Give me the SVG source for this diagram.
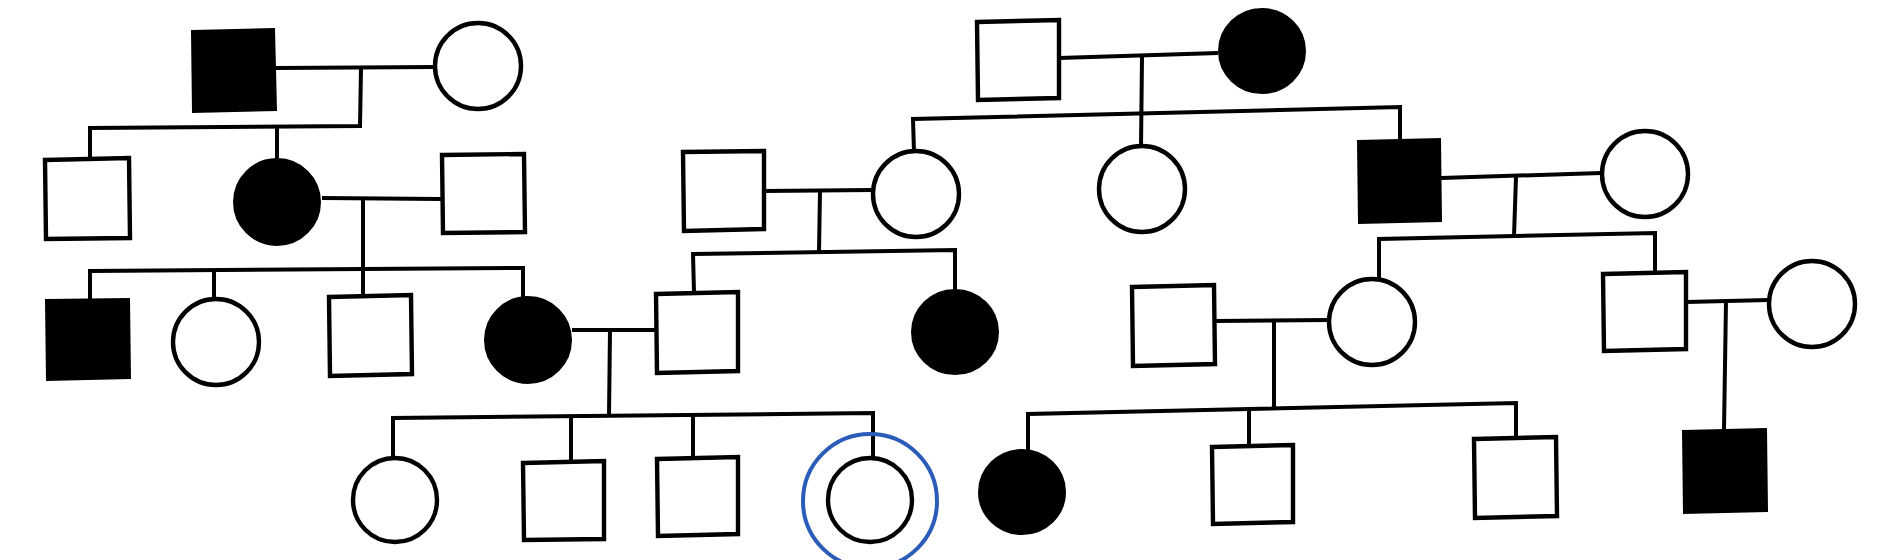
<svg xmlns="http://www.w3.org/2000/svg" width="1888" height="560" viewBox="0 0 1888 560">
<style>
.m{fill:#fff;stroke:#000;stroke-width:4.4}
.a{fill:#000;stroke:#000;stroke-width:2}
.c{stroke:#000;stroke-width:4;fill:none;stroke-linejoin:miter;stroke-linecap:butt}
.ring{fill:none;stroke:#2a5cb8;stroke-width:4}
</style>
<rect width="1888" height="560" fill="#fff"/>
<g id="connectors" class="c">
<!-- left family -->
<path d="M276,68 L435,67"/>
<path d="M90,158 L90,128 L360,126 L361,68"/>
<path d="M277,127 V158"/>
<path d="M322,198 L441,199"/>
<path d="M90,299 L90,271 L523,268 L523,297"/>
<path d="M214,270 V300"/>
<path d="M363,199 V295"/>
<path d="M572,330 L656,330"/>
<path d="M610,330 L609,416"/>
<path d="M393,457 L393,418 L873,413 L873,458"/>
<path d="M571,416 V461"/>
<path d="M693,415 V457"/>
<!-- middle family -->
<path d="M1059,58 L1218,53"/>
<path d="M1142,57 L1141,147"/>
<path d="M914,152 L913,119 L1400,107 L1400,140"/>
<path d="M764,191 L872,190"/>
<path d="M820,191 L819,252"/>
<path d="M694,292 L693,254 L955,250 L955,290"/>
<!-- right family -->
<path d="M1441,178 L1601,173"/>
<path d="M1516,177 L1514,236"/>
<path d="M1379,280 L1379,239 L1655,233 L1655,272"/>
<path d="M1214,321 L1329,320"/>
<path d="M1274,320 V409"/>
<path d="M1028,450 L1028,414 L1516,403 L1516,437"/>
<path d="M1249,409 V445"/>
<path d="M1686,302 L1769,300"/>
<path d="M1726,301 L1724,430"/>
</g>
<!-- left family nodes -->
<g id="n-I1"><polygon class="a" points="192,31 274,29 276,110 193,112"/></g>
<g id="n-I2"><circle class="m" cx="478" cy="66" r="43"/></g>
<g id="n-II1"><polygon class="m" points="45,160 129,158 130,238 46,239"/></g>
<g id="n-II2"><ellipse class="a" cx="277" cy="202" rx="43" ry="43"/></g>
<g id="n-II3"><polygon class="m" points="442,155 524,154 525,232 443,233"/></g>
<g id="n-III1"><polygon class="a" points="46,300 129,299 130,378 47,380"/></g>
<g id="n-III2"><circle class="m" cx="216" cy="342" r="43"/></g>
<g id="n-III3"><polygon class="m" points="329,297 411,295 412,374 330,376"/></g>
<g id="n-III4"><ellipse class="a" cx="528" cy="340" rx="43" ry="43"/></g>
<g id="n-IV1"><circle class="m" cx="395" cy="500" r="42"/></g>
<g id="n-IV2"><polygon class="m" points="523,463 604,461 604,539 524,540"/></g>
<g id="n-IV3"><polygon class="m" points="657,459 738,457 738,534 658,536"/></g>
<g id="n-IV4"><circle class="ring" cx="870" cy="501" r="67"/><circle class="m" cx="870" cy="500" r="42" stroke-width="3.6"/></g>
<!-- middle family nodes -->
<g id="n-M1"><polygon class="m" points="977,22 1059,20 1059,98 978,100"/></g>
<g id="n-M2"><ellipse class="a" cx="1262" cy="51" rx="43" ry="42"/></g>
<g id="n-M3"><circle class="m" cx="916" cy="194" r="43"/></g>
<g id="n-M4"><polygon class="m" points="683,152 764,151 764,229 684,231"/></g>
<g id="n-M5"><circle class="m" cx="1142" cy="189" r="43"/></g>
<g id="n-M6"><polygon class="a" points="1358,141 1440,139 1441,221 1359,223"/></g>
<g id="n-M7"><circle class="m" cx="1645" cy="174" r="43"/></g>
<g id="n-III5"><polygon class="m" points="656,294 738,292 738,371 657,373"/></g>
<g id="n-M8"><ellipse class="a" cx="955" cy="332" rx="43" ry="42"/></g>
<!-- right family nodes -->
<g id="n-R1"><polygon class="m" points="1132,287 1214,285 1215,364 1133,366"/></g>
<g id="n-R2"><circle class="m" cx="1372" cy="322" r="43"/></g>
<g id="n-R3"><polygon class="m" points="1603,274 1686,272 1686,349 1604,351"/></g>
<g id="n-R4"><circle class="m" cx="1812" cy="304" r="43"/></g>
<g id="n-R5"><ellipse class="a" cx="1022" cy="492" rx="43" ry="42"/></g>
<g id="n-R6"><polygon class="m" points="1212,447 1293,445 1293,522 1213,524"/></g>
<g id="n-R7"><polygon class="m" points="1474,439 1556,437 1557,516 1475,518"/></g>
<g id="n-R8"><polygon class="a" points="1683,431 1766,429 1767,511 1684,513"/></g>
</svg>
